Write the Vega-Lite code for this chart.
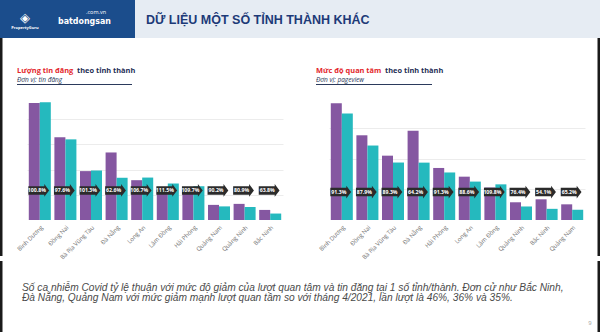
{
  "$schema": "https://vega.github.io/schema/vega-lite/v6.json",
  "padding": 0,
  "background": "white",
  "spacing": 0,
  "config": {
    "view": {"stroke": null},
    "font": "Open Sans",
    "axis": {"labelFont": "Open Sans"}
  },
  "datasets": {
    "listings": [
      {"province": "Bình Dương", "month": "Tháng 4/2021", "value": 116},
      {"province": "Bình Dương", "month": "Tháng 5/2021", "value": 116.9},
      {"province": "Đồng Nai", "month": "Tháng 4/2021", "value": 82},
      {"province": "Đồng Nai", "month": "Tháng 5/2021", "value": 80},
      {"province": "Bà Rịa Vũng Tàu", "month": "Tháng 4/2021", "value": 48.5},
      {"province": "Bà Rịa Vũng Tàu", "month": "Tháng 5/2021", "value": 49.1},
      {"province": "Đà Nẵng", "month": "Tháng 4/2021", "value": 67},
      {"province": "Đà Nẵng", "month": "Tháng 5/2021", "value": 41.9},
      {"province": "Long An", "month": "Tháng 4/2021", "value": 39.5},
      {"province": "Long An", "month": "Tháng 5/2021", "value": 42.1},
      {"province": "Lâm Đồng", "month": "Tháng 4/2021", "value": 32.5},
      {"province": "Lâm Đồng", "month": "Tháng 5/2021", "value": 36.2},
      {"province": "Hải Phòng", "month": "Tháng 4/2021", "value": 30.5},
      {"province": "Hải Phòng", "month": "Tháng 5/2021", "value": 33.5},
      {"province": "Quảng Nam", "month": "Tháng 4/2021", "value": 15},
      {"province": "Quảng Nam", "month": "Tháng 5/2021", "value": 13.5},
      {"province": "Quảng Ninh", "month": "Tháng 4/2021", "value": 16},
      {"province": "Quảng Ninh", "month": "Tháng 5/2021", "value": 12.9},
      {"province": "Bắc Ninh", "month": "Tháng 4/2021", "value": 10},
      {"province": "Bắc Ninh", "month": "Tháng 5/2021", "value": 6.4}
    ],
    "listingRatios": [
      {"province": "Bình Dương", "ratio": "100.8%"},
      {"province": "Đồng Nai", "ratio": "97.6%"},
      {"province": "Bà Rịa Vũng Tàu", "ratio": "101.3%"},
      {"province": "Đà Nẵng", "ratio": "62.6%"},
      {"province": "Long An", "ratio": "106.7%"},
      {"province": "Lâm Đồng", "ratio": "111.5%"},
      {"province": "Hải Phòng", "ratio": "109.7%"},
      {"province": "Quảng Nam", "ratio": "90.2%"},
      {"province": "Quảng Ninh", "ratio": "80.9%"},
      {"province": "Bắc Ninh", "ratio": "63.8%"}
    ],
    "views": [
      {"province": "Bình Dương", "month": "Tháng 4/2021", "value": 113.9},
      {"province": "Bình Dương", "month": "Tháng 5/2021", "value": 104},
      {"province": "Đồng Nai", "month": "Tháng 4/2021", "value": 82.7},
      {"province": "Đồng Nai", "month": "Tháng 5/2021", "value": 72.7},
      {"province": "Bà Rịa Vũng Tàu", "month": "Tháng 4/2021", "value": 62.8},
      {"province": "Bà Rịa Vũng Tàu", "month": "Tháng 5/2021", "value": 56.1},
      {"province": "Đà Nẵng", "month": "Tháng 4/2021", "value": 87.2},
      {"province": "Đà Nẵng", "month": "Tháng 5/2021", "value": 56},
      {"province": "Hải Phòng", "month": "Tháng 4/2021", "value": 50.8},
      {"province": "Hải Phòng", "month": "Tháng 5/2021", "value": 46.4},
      {"province": "Long An", "month": "Tháng 4/2021", "value": 42.3},
      {"province": "Long An", "month": "Tháng 5/2021", "value": 37.5},
      {"province": "Lâm Đồng", "month": "Tháng 4/2021", "value": 31.7},
      {"province": "Lâm Đồng", "month": "Tháng 5/2021", "value": 34.8},
      {"province": "Quảng Ninh", "month": "Tháng 4/2021", "value": 17.3},
      {"province": "Quảng Ninh", "month": "Tháng 5/2021", "value": 13.2},
      {"province": "Bắc Ninh", "month": "Tháng 4/2021", "value": 20.2},
      {"province": "Bắc Ninh", "month": "Tháng 5/2021", "value": 10.9},
      {"province": "Quảng Nam", "month": "Tháng 4/2021", "value": 15.3},
      {"province": "Quảng Nam", "month": "Tháng 5/2021", "value": 10}
    ],
    "viewRatios": [
      {"province": "Bình Dương", "ratio": "91.3%"},
      {"province": "Đồng Nai", "ratio": "87.9%"},
      {"province": "Bà Rịa Vũng Tàu", "ratio": "89.3%"},
      {"province": "Đà Nẵng", "ratio": "64.2%"},
      {"province": "Hải Phòng", "ratio": "91.3%"},
      {"province": "Long An", "ratio": "88.6%"},
      {"province": "Lâm Đồng", "ratio": "109.8%"},
      {"province": "Quảng Ninh", "ratio": "76.4%"},
      {"province": "Bắc Ninh", "ratio": "54.1%"},
      {"province": "Quảng Nam", "ratio": "65.2%"}
    ]
  },
  "vconcat": [
    {
      "bounds": "flush",
      "spacing": 0,
      "hconcat": [
        {
          "width": 135,
          "height": 38,
          "view": {"fill": "#1b4d8c", "stroke": null},
          "layer": [
            {
              "data": {"values": [{"t": "batdongsan"}]},
              "mark": {"type": "text", "align": "left", "baseline": "alphabetic", "fontSize": 8.8, "fontWeight": "bold", "color": "white", "font": "DejaVu Sans Condensed"},
              "encoding": {
                "text": {"field": "t"},
                "x": {"datum": 58, "type": "quantitative", "scale": {"domain": [0, 135], "nice": false, "zero": false}, "axis": null},
                "y": {"datum": 24, "type": "quantitative", "scale": {"domain": [38, 0], "nice": false, "zero": false}, "axis": null}
              }
            },
            {
              "data": {"values": [{"t": ".com.vn"}]},
              "mark": {"type": "text", "align": "left", "baseline": "alphabetic", "fontSize": 5.5, "color": "white"},
              "encoding": {
                "text": {"field": "t"},
                "x": {"datum": 86, "type": "quantitative", "scale": {"domain": [0, 135], "nice": false, "zero": false}, "axis": null},
                "y": {"datum": 14, "type": "quantitative", "scale": {"domain": [38, 0], "nice": false, "zero": false}, "axis": null}
              }
            },
            {
              "data": {"values": [{"t": "PropertyGuru"}]},
              "mark": {"type": "text", "align": "center", "baseline": "alphabetic", "fontSize": 4, "fontWeight": "bold", "color": "white"},
              "encoding": {
                "text": {"field": "t"},
                "x": {"datum": 25, "type": "quantitative", "scale": {"domain": [0, 135], "nice": false, "zero": false}, "axis": null},
                "y": {"datum": 29, "type": "quantitative", "scale": {"domain": [38, 0], "nice": false, "zero": false}, "axis": null}
              }
            },
            {
              "data": {"values": [{"t": "◈"}]},
              "mark": {"type": "text", "align": "center", "baseline": "alphabetic", "fontSize": 13, "color": "white"},
              "encoding": {
                "text": {"field": "t"},
                "x": {"datum": 25, "type": "quantitative", "scale": {"domain": [0, 135], "nice": false, "zero": false}, "axis": null},
                "y": {"datum": 22, "type": "quantitative", "scale": {"domain": [38, 0], "nice": false, "zero": false}, "axis": null}
              }
            }
          ]
        },
        {
          "width": 465,
          "height": 38,
          "view": {"fill": "#e6ecf3", "stroke": null},
          "data": {"values": [{"t": "DỮ LIỆU MỘT SỐ TỈNH THÀNH KHÁC"}]},
          "mark": {"type": "text", "align": "left", "baseline": "alphabetic", "fontSize": 12.5, "fontWeight": "bold", "color": "#1d3a78", "font": "Liberation Sans"},
          "encoding": {
            "text": {"field": "t"},
            "x": {"datum": 11, "type": "quantitative", "scale": {"domain": [0, 465], "nice": false, "zero": false}, "axis": null},
            "y": {"datum": 24, "type": "quantitative", "scale": {"domain": [38, 0], "nice": false, "zero": false}, "axis": null}
          }
        }
      ]
    },
    {
      "width": 600,
      "height": 56,
      "encoding": {
        "x": {"type": "quantitative", "scale": {"domain": [0, 600], "nice": false, "zero": false}, "axis": null},
        "y": {"type": "quantitative", "scale": {"domain": [56, 0], "nice": false, "zero": false}, "axis": null}
      },
      "layer": [
        {
          "data": {"values": [{"t": "left edge"}]},
          "mark": {"type": "rect", "color": "#1a1a1a"},
          "encoding": {"x": {"datum": 0}, "x2": {"datum": 2.5}}
        },
        {
          "data": {"values": [{"t": "right edge"}]},
          "mark": {"type": "rect", "color": "#1a1a1a"},
          "encoding": {"x": {"datum": 597.5}, "x2": {"datum": 600}}
        },
        {
          "data": {"values": [{"t": "Lượng tin đăng"}]},
          "mark": {"type": "text", "align": "left", "baseline": "alphabetic", "fontSize": 7.4, "fontWeight": "bold", "color": "#e3262b"},
          "encoding": {"text": {"field": "t"}, "x": {"datum": 17}, "y": {"datum": 35}}
        },
        {
          "data": {"values": [{"t": "theo tỉnh thành"}]},
          "mark": {"type": "text", "align": "left", "baseline": "alphabetic", "fontSize": 7.4, "fontWeight": "bold", "color": "#1f2f55"},
          "encoding": {"text": {"field": "t"}, "x": {"datum": 77}, "y": {"datum": 35}}
        },
        {
          "data": {"values": [{"t": "Đơn vị: tin đăng"}]},
          "mark": {"type": "text", "align": "left", "baseline": "alphabetic", "fontSize": 6.5, "fontStyle": "italic", "color": "#2b3a5c"},
          "encoding": {"text": {"field": "t"}, "x": {"datum": 17}, "y": {"datum": 44}}
        },
        {
          "data": {"values": [{"t": "underline"}]},
          "mark": {"type": "rule", "color": "#2b3a5c", "strokeWidth": 1},
          "encoding": {"x": {"datum": 17}, "x2": {"datum": 132}, "y": {"datum": 46.5}}
        },
        {
          "data": {"values": [{"t": "Mức độ quan tâm"}]},
          "mark": {"type": "text", "align": "left", "baseline": "alphabetic", "fontSize": 7.4, "fontWeight": "bold", "color": "#e3262b"},
          "encoding": {"text": {"field": "t"}, "x": {"datum": 316}, "y": {"datum": 35}}
        },
        {
          "data": {"values": [{"t": "theo tỉnh thành"}]},
          "mark": {"type": "text", "align": "left", "baseline": "alphabetic", "fontSize": 7.4, "fontWeight": "bold", "color": "#1f2f55"},
          "encoding": {"text": {"field": "t"}, "x": {"datum": 385}, "y": {"datum": 35}}
        },
        {
          "data": {"values": [{"t": "Đơn vị: pageview"}]},
          "mark": {"type": "text", "align": "left", "baseline": "alphabetic", "fontSize": 6.5, "fontStyle": "italic", "color": "#2b3a5c"},
          "encoding": {"text": {"field": "t"}, "x": {"datum": 316}, "y": {"datum": 44}}
        },
        {
          "data": {"values": [{"t": "underline"}]},
          "mark": {"type": "rule", "color": "#2b3a5c", "strokeWidth": 1},
          "encoding": {"x": {"datum": 316}, "x2": {"datum": 432}, "y": {"datum": 46.5}}
        }
      ]
    },
    {
      "bounds": "flush",
      "spacing": 0,
      "hconcat": [
        {
          "width": 27,
          "height": 162,
          "data": {"values": [{"t": "left edge"}]},
          "mark": {"type": "rect", "color": "#1a1a1a"},
          "encoding": {
            "x": {"datum": 0, "type": "quantitative", "scale": {"domain": [0, 27], "nice": false, "zero": false}, "axis": null},
            "x2": {"datum": 2.5}
          }
        },
        {
          "width": 256,
          "height": 126,
          "encoding": {
            "x": {
              "field": "province", "type": "nominal", "sort": null,
              "scale": {"paddingInner": 0.14, "paddingOuter": 0.07},
              "axis": {"title": null, "labelAngle": -45, "labelFontSize": 6, "labelColor": "#707070", "ticks": false, "domain": false, "labelPadding": 4, "minExtent": 36, "maxExtent": 36}
            },
            "y": {
              "type": "quantitative",
              "scale": {"domain": [0, 125], "nice": false},
              "axis": {"title": null, "labels": false, "ticks": false, "domain": false, "grid": true, "gridColor": "#ececec", "values": [25, 50, 75, 100]}
            }
          },
          "layer": [
            {
              "data": {"name": "listings"},
              "mark": {"type": "bar"},
              "encoding": {
                "y": {"field": "value", "type": "quantitative"},
                "xOffset": {"field": "month", "type": "nominal"},
                "color": {"field": "month", "type": "nominal", "scale": {"range": ["#8557a1", "#25b9be"]}, "legend": null}
              }
            },
            {
              "data": {"name": "listingRatios"},
              "mark": {"type": "point", "shape": "M-0.95,-0.38 L0.5,-0.38 L0.5,-0.58 L0.94,0 L0.5,0.58 L0.5,0.38 L-0.95,0.38 Z", "size": 484, "filled": true, "color": "#2b2b2b", "opacity": 1, "xOffset": -1},
              "encoding": {"y": {"datum": 29.3, "type": "quantitative"}}
            },
            {
              "data": {"name": "listingRatios"},
              "mark": {"type": "text", "color": "white", "fontSize": 5.2, "fontWeight": "bold", "dx": -3},
              "encoding": {"text": {"field": "ratio"}, "y": {"datum": 29.3, "type": "quantitative"}}
            }
          ]
        },
        {
          "width": 46,
          "height": 126,
          "data": {"values": [{"t": ""}]},
          "mark": "text",
          "encoding": {"text": {"field": "t"}}
        },
        {
          "width": 256,
          "height": 126,
          "encoding": {
            "x": {
              "field": "province", "type": "nominal", "sort": null,
              "scale": {"paddingInner": 0.14, "paddingOuter": 0.07},
              "axis": {"title": null, "labelAngle": -45, "labelFontSize": 6, "labelColor": "#707070", "ticks": false, "domain": false, "labelPadding": 4, "minExtent": 36, "maxExtent": 36}
            },
            "y": {
              "type": "quantitative",
              "scale": {"domain": [0, 123], "nice": false},
              "axis": {"title": null, "labels": false, "ticks": false, "domain": false, "grid": true, "gridColor": "#ececec", "values": [30, 60, 90]}
            }
          },
          "layer": [
            {
              "data": {"name": "views"},
              "mark": {"type": "bar"},
              "encoding": {
                "y": {"field": "value", "type": "quantitative"},
                "xOffset": {"field": "month", "type": "nominal"},
                "color": {"field": "month", "type": "nominal", "scale": {"range": ["#8557a1", "#25b9be"]}, "legend": null}
              }
            },
            {
              "data": {"name": "viewRatios"},
              "mark": {"type": "point", "shape": "M-0.95,-0.38 L0.5,-0.38 L0.5,-0.58 L0.94,0 L0.5,0.58 L0.5,0.38 L-0.95,0.38 Z", "size": 484, "filled": true, "color": "#2b2b2b", "opacity": 1, "xOffset": -1},
              "encoding": {"y": {"datum": 27.3, "type": "quantitative"}}
            },
            {
              "data": {"name": "viewRatios"},
              "mark": {"type": "text", "color": "white", "fontSize": 5.2, "fontWeight": "bold", "dx": -3},
              "encoding": {"text": {"field": "ratio"}, "y": {"datum": 27.3, "type": "quantitative"}}
            }
          ]
        },
        {
          "width": 15,
          "height": 162,
          "data": {"values": [{"t": "right edge"}]},
          "mark": {"type": "rect", "color": "#1a1a1a"},
          "encoding": {
            "x": {"datum": 12.5, "type": "quantitative", "scale": {"domain": [0, 15], "nice": false, "zero": false}, "axis": null},
            "x2": {"datum": 15}
          }
        }
      ]
    },
    {
      "width": 600,
      "height": 76,
      "encoding": {
        "x": {"type": "quantitative", "scale": {"domain": [0, 600], "nice": false, "zero": false}, "axis": null},
        "y": {"type": "quantitative", "scale": {"domain": [76, 0], "nice": false, "zero": false}, "axis": null}
      },
      "layer": [
        {
          "data": {"values": [{"t": "left edge"}]},
          "mark": {"type": "rect", "color": "#1a1a1a"},
          "encoding": {"x": {"datum": 0}, "x2": {"datum": 2.5}}
        },
        {
          "data": {"values": [{"t": "right edge"}]},
          "mark": {"type": "rect", "color": "#1a1a1a"},
          "encoding": {"x": {"datum": 597.5}, "x2": {"datum": 600}}
        },
        {
          "data": {"values": [{"t": "Số ca nhiễm Covid tỷ lệ thuận với mức độ giảm của lượt quan tâm và tin đăng tại 1 số tỉnh/thành. Đơn cử như Bắc Ninh,"}]},
          "mark": {"type": "text", "align": "left", "baseline": "alphabetic", "fontSize": 10.2, "fontStyle": "italic", "color": "#4a4a4a", "font": "Liberation Sans"},
          "encoding": {"text": {"field": "t"}, "x": {"datum": 22}, "y": {"datum": 30}}
        },
        {
          "data": {"values": [{"t": "Đà Nẵng, Quảng Nam với mức giảm mạnh lượt quan tâm so với tháng 4/2021, lần lượt là 46%, 36% và 35%."}]},
          "mark": {"type": "text", "align": "left", "baseline": "alphabetic", "fontSize": 10.2, "fontStyle": "italic", "color": "#4a4a4a", "font": "Liberation Sans"},
          "encoding": {"text": {"field": "t"}, "x": {"datum": 22}, "y": {"datum": 40}}
        },
        {
          "data": {"values": [{"t": "9"}]},
          "mark": {"type": "text", "align": "center", "baseline": "alphabetic", "fontSize": 6, "color": "#aaaaaa", "font": "Liberation Sans"},
          "encoding": {"text": {"field": "t"}, "x": {"datum": 590}, "y": {"datum": 64}}
        }
      ]
    }
  ]
}
